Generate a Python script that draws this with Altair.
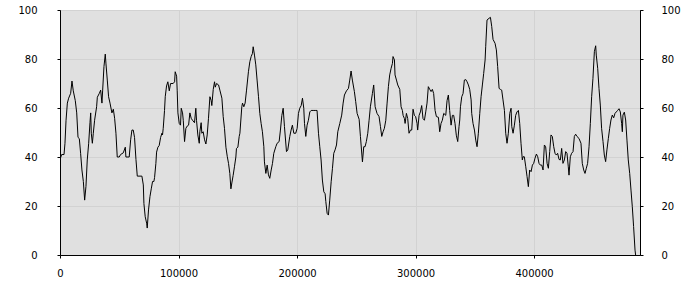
import altair as alt
import pandas as pd

# x positions in thousands, y values (0-100)
X_A = [0, 1.4, 3.4, 4.2, 5.1, 6.2, 7.3, 9.0, 10.1, 11.2,
       12.9, 14.1, 15.2, 16.3, 17.4, 18.5, 19.7, 20.8, 21.9, 23.0,
       24.2, 25.3, 25.9, 26.4, 27.3, 28.1, 29.2, 30.9, 31.5, 33.2,
       34.3, 35.4, 36.0, 37.1, 38.2, 38.8, 39.9, 41.0, 42.2, 43.8,
       45.0, 46.1, 47.2, 48.3, 50.0, 51.1, 53.4, 55.1, 55.6, 58.4,
       59.6, 60.7, 61.8, 62.9, 64.1, 65.2, 69.1, 70.3, 70.8, 71.9,
       73.1, 73.6, 74.7, 75.9, 77.0, 78.1, 79.2, 79.8, 80.9, 81.5,
       82.6, 83.7, 84.9, 86.0, 86.5, 87.1, 88.2, 88.8, 89.9, 91.0,
       92.2, 93.3, 95.5, 96.7, 97.2, 98.4, 98.9, 99.5, 100.6, 101.7,
       102.3, 103.4, 104.0, 105.1, 106.2, 107.3, 108.5, 109.6, 110.7, 111.8,
       113.5, 114.6, 115.2, 116.3, 117.5, 118.0, 119.1, 119.7, 120.8, 122.0,
       123.1, 124.2, 125.3, 126.5, 127.6, 128.1, 129.3, 130.4, 131.0, 132.1,
       133.8, 134.9, 136.6, 137.7, 138.8, 140.0, 141.1, 142.2, 143.3, 144.2,
       145.0, 146.1, 147.2, 148.4, 148.9, 150.1, 151.2]
Y_A = [39, 41, 41, 45.6, 55, 62, 64, 66, 71, 67,
       63, 58, 48, 47.5, 41.5, 34.7, 30, 22.4, 28, 38.8,
       45.6, 54, 58, 49.7, 45.6, 49.7, 55, 60.5, 64.4, 66,
       67.3, 62, 67.3, 76.9, 82, 78, 71.4, 64.6, 62, 58,
       59.5, 55.8, 49.7, 40, 40, 41, 41.7, 44, 40, 40,
       47, 51, 51, 48, 39, 32.2, 32.2, 28.6, 21, 15.6,
       13, 11, 18.4, 23.8, 27, 30, 30, 31.6, 37.4, 42,
       44, 44.7, 48, 49.7, 49, 51.7, 59, 64.6, 69, 70.7,
       67, 70, 70, 70.7, 74.8, 73, 67, 58, 53.7, 53,
       59.9, 58, 55, 46.3, 51.7, 52.6, 53, 58, 55.8, 55,
       54, 59.9, 55, 49, 45.6, 50.3, 54, 49.7, 50.3, 47,
       45.3, 49, 55.8, 64.6, 63, 61, 67.6, 70.7, 68.5, 70,
       69.4, 67.3, 64, 56.5, 51.7, 44, 40.3, 37.4, 33.3, 27,
       29.4, 32.5, 36, 40, 43.5, 44, 48.4]

X_B = [151.8, 153.4, 154.0, 155.1, 156.2, 157.4, 159.0, 160.2, 161.3, 162.4,
       163.0, 164.1, 165.2, 166.3, 167.5, 168.6, 169.7, 170.8, 172.0, 172.5,
       173.7, 174.8, 175.9, 177.0, 178.2, 179.3, 180.4, 182.1, 183.2, 184.9,
       186.0, 187.2, 188.3, 189.4, 191.1, 192.2, 193.9, 195.0, 196.1, 197.3,
       198.9, 200.1, 201.2, 202.3, 203.5, 204.6, 205.7, 206.3, 207.4, 208.5,
       209.6, 210.8, 211.9, 213.6, 215.3, 216.9, 218.1, 219.2, 220.3, 221.4,
       222.6, 223.7, 224.3, 225.4, 226.5, 227.6, 228.8, 229.9, 231.0, 232.1,
       233.3, 234.4, 236.1, 237.7, 238.9, 240.0, 241.7, 243.4, 244.5, 245.6,
       246.7, 248.4, 249.5, 250.7, 252.4, 253.5, 255.2, 256.3, 257.4, 258.5,
       259.7, 260.8, 261.9, 263.6, 264.7, 265.9, 267.5, 269.2, 270.4, 271.5,
       272.6, 273.7, 274.9, 276.0, 277.1, 278.2, 279.4, 280.5, 281.0, 282.2,
       282.7, 283.9, 285.0, 286.7, 287.8, 288.9, 289.5, 290.6, 291.2, 292.3,
       293.4, 294.5, 295.7, 296.8, 297.9, 299.0, 300.1, 301.3, 301.8, 303.0,
       304.1, 305.2, 306.3, 307.5, 308.6, 309.7, 310.8, 312.0, 313.1, 314.2,
       315.3, 316.5, 317.6, 319.3, 320.4, 321.5, 322.6, 323.8, 325.5, 326.6,
       327.7, 328.8, 330.0, 331.1, 332.2, 333.3, 334.4, 335.6, 336.7]
Y_B = [49.7, 60.5, 62, 60.5, 62, 67.3, 74.8, 78.9, 81, 82.3,
       85, 81.6, 77.6, 71.4, 64.6, 57.8, 53.7, 50.3, 44.2, 38,
       33.3, 36.7, 32.7, 31.3, 34.7, 37.4, 41.5, 44.2, 45.6, 46.3,
       51, 57, 59.9, 52.4, 42.2, 42.9, 48.4, 51, 53, 49.7,
       49.7, 51.7, 57.8, 59.9, 61, 64, 59.9, 53.7, 48.4, 53,
       55, 58.4, 59, 59, 59, 59, 49.7, 44.2, 38.8, 30.6,
       25.8, 25, 21.8, 17, 16.3, 22.4, 29.9, 35.4, 41.5, 42.9,
       44.9, 50.3, 53.7, 57.1, 62, 65.3, 67, 68, 71.4, 75.1,
       71.4, 66.7, 62.6, 57.8, 55.4, 48.4, 38, 44.2, 44.2, 46.3,
       49.7, 55, 60.5, 65.9, 69.4, 60.5, 57.8, 56.5, 52.4, 48.4,
       50.3, 51.7, 55, 62, 68.7, 73.5, 76.2, 78.2, 81, 79.6,
       73.5, 71.4, 69.4, 67.6, 60.5, 59, 57, 55.7, 53.7, 57.8,
       55.7, 49.7, 51, 51, 59.5, 57, 56.5, 53.7, 51, 57,
       58.4, 61, 55.7, 55, 58.4, 62, 68.7, 67.6, 66.7, 67.6,
       65.9, 59, 56.5, 56.2, 50.3, 53.7, 55, 57.8, 57, 63,
       65.3, 59, 53, 57, 57, 53.7, 48.9, 46.3, 52.4]

X_C = [337.3, 337.9, 339.0, 340.1, 341.2, 342.4, 343.5, 344.6, 345.7, 346.9,
       347.4, 348.5, 349.7, 350.8, 351.9, 353.0, 354.2, 355.3, 356.4, 357.5,
       358.7, 359.2, 360.3, 362.0, 363.2, 364.3, 365.4, 367.1, 368.2, 369.3,
       370.5, 371.6, 372.7, 373.8, 375.0, 376.1, 377.2, 378.3, 379.5, 380.6,
       381.2, 382.3, 383.4, 384.5, 385.6, 386.8, 387.9, 389.0, 390.1, 390.7,
       391.8, 393.0, 394.1, 395.2, 396.3, 397.5, 398.6, 399.7, 400.8, 402.0,
       403.1, 404.2, 405.3, 406.5, 407.6, 408.7, 409.8, 411.0, 412.1, 413.2,
       414.3, 415.4, 416.6, 417.7, 418.8, 419.9, 421.1, 422.2, 423.3, 424.4,
       425.6, 426.7, 427.8, 428.9, 429.5, 430.6, 431.7, 432.9, 434.0, 435.1,
       436.2, 437.9, 439.6, 440.7, 441.9, 443.0, 444.1, 445.2, 446.4, 447.5,
       448.6, 449.7, 450.9, 452.0, 452.5, 453.7, 454.8, 455.9, 457.0, 458.2,
       459.3, 460.4, 461.5, 462.7, 463.8, 464.9, 466.0, 467.2, 468.3, 469.4,
       470.5, 471.7, 472.8, 473.9, 474.5, 475.0, 476.2, 477.3, 478.4, 479.5,
       480.7, 481.8, 482.9, 484.0, 485.2, 485.7]
Y_C = [55.1, 60.5, 64.6, 65.9, 71.4, 71.6, 70.7, 69.4, 67.6, 63.3,
       57.8, 53.7, 51, 46.9, 44.2, 49.7, 57.8, 64.6, 69.4, 74.1,
       79.6, 85, 95.9, 96.6, 97, 93.2, 88, 86.4, 83.7, 76.9,
       68, 67.6, 67.3, 63.3, 59, 49.7, 45.6, 49.7, 57.8, 59.9,
       52.4, 49.7, 53, 57, 58.4, 59, 53.7, 45.6, 38.8, 40.1,
       40.1, 36, 32, 27.9, 34.7, 34, 36.7, 37.4, 39.5, 41.2,
       40.1, 37.4, 36.7, 36.7, 34.7, 44.9, 44.2, 37.4, 35.4, 42.2,
       49, 48.4, 44.2, 41.5, 40.8, 41.5, 39, 38.8, 43.5, 37.4,
       38.8, 42.2, 41.5, 36, 32.6, 40.1, 41.5, 42.2, 48.4, 49.3,
       48.4, 47.6, 45.6, 37.4, 34.7, 33.3, 35.4, 37.4, 44.2, 53.7,
       64.6, 72.1, 83, 85.4, 81.6, 76.2, 68, 61.2, 51.7, 46.3,
       40.8, 38.1, 42.9, 47.6, 51.7, 55.1, 57.1, 56, 57.8, 58.4,
       59, 59.7, 58.4, 53.7, 50.3, 57.1, 58.3, 55.1, 46.9, 38.8,
       33.3, 26.5, 19.7, 11.6, 2, 0]

X_TICKS = [0, 100000, 200000, 300000, 400000]
Y_TICKS = [0, 20, 40, 60, 80, 100]
X_MAX = 489400

xs = [v * 1000 for v in X_A + X_B + X_C]
ys = Y_A + Y_B + Y_C
df = pd.DataFrame({"x": xs, "y": ys})

xscale = alt.Scale(domain=[0, X_MAX], nice=False, zero=False)
yscale = alt.Scale(domain=[0, 100], nice=False)

axis_common = dict(
    domainColor="black", tickColor="black", tickSize=3,
    labelFont="DejaVu Sans", labelFontSize=10, labelColor="black",
    gridColor="#d2d2d2", title=None,
)

x_axis = alt.Axis(values=X_TICKS, format="d", labelPadding=10,
                  labelFlush=False, grid=True, **axis_common)

line = alt.Chart(df).mark_line(color="black", strokeWidth=1, clip=True).encode(
    x=alt.X("x:Q", scale=xscale, axis=x_axis),
    y=alt.Y("y:Q", scale=yscale,
            axis=alt.Axis(values=Y_TICKS, orient="left", labelPadding=20,
                          grid=True, **axis_common)),
)

right = alt.Chart(df).mark_line(opacity=0).encode(
    x=alt.X("x:Q", scale=xscale, axis=x_axis),
    y=alt.Y("y:Q", scale=yscale,
            axis=alt.Axis(values=Y_TICKS, orient="right", labelPadding=18,
                          grid=False, **axis_common)),
)

chart = alt.layer(line, right).resolve_axis(y="independent").properties(
    width=580, height=245,
    autosize=alt.AutoSizeParams(type="none"),
    padding={"left": 60, "top": 10, "right": 60, "bottom": 45},
    background="white",
).configure_view(fill="#e0e0e0", stroke="black", strokeWidth=1)

chart.save("out.html", embed_options={"renderer": "svg", "actions": False})
